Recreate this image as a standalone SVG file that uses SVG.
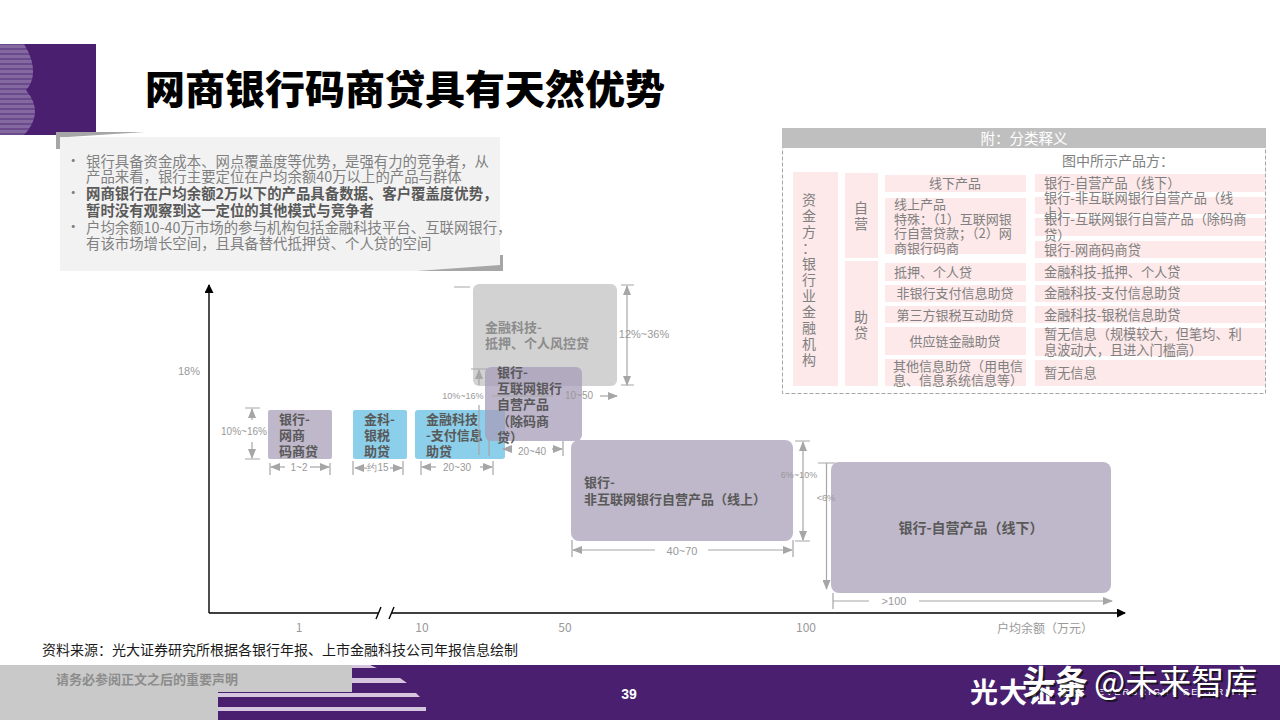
<svg xmlns="http://www.w3.org/2000/svg" width="1280" height="720" viewBox="0 0 1280 720">
<style>
text{font-family:"Noto Sans CJK SC","Liberation Sans",sans-serif}
.b{font-size:14.4px;fill:#808080}
.bb{font-size:14.4px;fill:#595959;font-weight:700}
.t{font-size:13px;fill:#808080}
.c{text-anchor:middle}
.p{fill:#fde9ea}
.n{font-size:13px;font-weight:700;fill:#595959}
.prod{fill:#bfb8ca}
.d{stroke:#a6a6a6;stroke-width:1.2;fill:none}
.da{stroke:#a6a6a6;stroke-width:1.2;fill:none;marker-end:url(#g)}
.l{font-size:10px;fill:#999;text-anchor:middle;font-family:"Liberation Sans",sans-serif}
.ax{font-size:12px;fill:#999;text-anchor:middle}
.axis{stroke:#000;stroke-width:1.4;fill:none}
</style>
<defs>
<marker id="g" markerWidth="10" markerHeight="8" refX="9" refY="4" orient="auto" markerUnits="userSpaceOnUse"><path d="M0 0L10 4L0 8Z" fill="#a6a6a6"/></marker>
<marker id="k" markerWidth="9" markerHeight="9" refX="8" refY="4.5" orient="auto" markerUnits="userSpaceOnUse"><path d="M0 0L9 4.5L0 9Z" fill="#000"/></marker>
<pattern id="st" width="4" height="5" patternUnits="userSpaceOnUse"><rect width="4" height="3" fill="#8468a0"/><rect y="3" width="4" height="2" fill="#6a4a8c"/></pattern>
</defs>
<rect width="1280" height="720" fill="#fff"/>

<g id="logo">
<rect x="0" y="44" width="96" height="91" fill="#4a1f6f"/>
<path d="M0 44H24Q34 60 33 74Q32 84 26 90Q36 102 35 114Q33 126 24 135H0Z" fill="url(#st)"/>
</g>
<text id="title" x="145" y="104" font-size="40" font-weight="900" fill="#000">网商银行码商贷具有天然优势</text>

<g id="summary">
<path d="M56 132H145L60 137.500V149H56Z" fill="#a6a6a6"/>
<rect x="60" y="137" width="440" height="134" fill="#f2f2f2"/>
<path d="M503 255V271H417L500 265V255Z" fill="#a6a6a6"/>
<g class="b">
<text x="66" y="166">•</text><text x="66" y="198">•</text><text x="66" y="232">•</text>
<text x="86" y="167">银行具备资金成本、网点覆盖度等优势，是强有力的竞争者，从</text>
<text x="86" y="182">产品来看，银行主要定位在户均余额40万以上的产品与群体</text>
<text x="86" y="233">户均余额10-40万市场的参与机构包括金融科技平台、互联网银行，</text>
<text x="86" y="249">有该市场增长空间，且具备替代抵押贷、个人贷的空间</text>
</g>
<text class="bb" x="86" y="199">网商银行在户均余额2万以下的产品具备数据、客户覆盖度优势，</text>
<text class="bb" x="86" y="216">暂时没有观察到这一定位的其他模式与竞争者</text>
</g>

<g id="legend">
<rect x="782.500" y="128.500" width="483" height="265" fill="#fff" stroke="#a6a6a6" stroke-dasharray="4 2"/>
<rect x="782" y="128" width="484" height="20" fill="#bfbfbf"/>
<text x="1024" y="144" font-size="14.500" fill="#fff" class="c">附：分类释义</text>
<text x="1118" y="166" font-size="14" fill="#808080" class="c">图中所示产品方：</text>
<rect class="p" x="793" y="172" width="45" height="214"/>
<rect class="p" x="845" y="173" width="33" height="85"/>
<rect class="p" x="845" y="261" width="33" height="125"/>
<rect class="p" x="885" y="175" width="141" height="17"/>
<rect class="p" x="885" y="198" width="141" height="56"/>
<rect class="p" x="885" y="263" width="141" height="18"/>
<rect class="p" x="885" y="285" width="141" height="17"/>
<rect class="p" x="885" y="306" width="141" height="17"/>
<rect class="p" x="885" y="327" width="141" height="28"/>
<rect class="p" x="885" y="359" width="141" height="27"/>
<rect class="p" x="1035" y="174" width="230" height="18"/>
<rect class="p" x="1035" y="197" width="230" height="17"/>
<rect class="p" x="1035" y="218" width="230" height="18"/>
<rect class="p" x="1035" y="241" width="230" height="17"/>
<rect class="p" x="1035" y="263" width="230" height="18"/>
<rect class="p" x="1035" y="285" width="230" height="17"/>
<rect class="p" x="1035" y="306" width="230" height="17"/>
<rect class="p" x="1035" y="328" width="230" height="28"/>
<rect class="p" x="1035" y="360" width="230" height="26"/>
<g font-size="14" fill="#808080" text-anchor="middle">
<text x="809" y="205">资</text><text x="809" y="221">金</text><text x="809" y="237">方</text><text x="809" y="253">：</text><text x="809" y="269">银</text><text x="809" y="285">行</text><text x="809" y="301">业</text><text x="809" y="317">金</text><text x="809" y="333">融</text><text x="809" y="349">机</text><text x="809" y="365">构</text>
<text x="861" y="213">自</text><text x="861" y="229">营</text>
<text x="861" y="322">助</text><text x="861" y="338">贷</text>
</g>
<g class="t">
<text class="c t" x="955" y="188">线下产品</text>
<text x="894" y="209">线上产品</text>
<text x="894" y="224">特殊：（1）互联网银</text>
<text x="894" y="238">行自营贷款；（2）网</text>
<text x="894" y="253">商银行码商</text>
<text x="894" y="277">抵押、个人贷</text>
<text class="c t" x="955" y="298">非银行支付信息助贷</text>
<text class="c t" x="955" y="320">第三方银税互动助贷</text>
<text class="c t" x="955" y="346">供应链金融助贷</text>
<text x="893" y="371">其他信息助贷（用电信</text>
<text x="893" y="385">息、信息系统信息等）</text>
</g>
<g font-size="13.200" fill="#808080">
<text x="1044" y="188">银行-自营产品（线下）</text>
<text x="1044" y="203">银行-非互联网银行自营产品（线</text>
<text x="1044" y="218">上）</text>
<text x="1044" y="224">银行-互联网银行自营产品（除码商</text>
<text x="1044" y="240">贷）</text>
<text x="1044" y="255">银行-网商码商贷</text>
<text x="1044" y="277">金融科技-抵押、个人贷</text>
<text x="1044" y="298">金融科技-支付信息助贷</text>
<text x="1044" y="320">金融科技-银税信息助贷</text>
<text x="1044" y="339">暂无信息（规模较大，但笔均、利</text>
<text x="1044" y="355">息波动大，且进入门槛高）</text>
<text x="1044" y="378">暂无信息</text>
</g>
</g>

<g id="node-fintech-mortgage">
<rect x="473" y="284" width="144" height="102" rx="6" fill="#d2d2d2"/>
<text x="485" y="332" font-size="13" font-weight="700" fill="#8c8c8c">金融科技-</text>
<text x="485" y="348" font-size="13" font-weight="700" fill="#8c8c8c">抵押、个人风控贷</text>
</g>
<g id="node-mybank">
<rect class="prod" x="268" y="410" width="64" height="49" rx="2"/>
<text class="n" x="279" y="424">银行-</text><text class="n" x="279" y="440">网商</text><text class="n" x="279" y="456">码商贷</text>
</g>
<g id="node-tax">
<rect x="353" y="410" width="54" height="49" rx="2" fill="#8ccfea"/>
<text class="n" x="364" y="424">金科-</text><text class="n" x="364" y="440">银税</text><text class="n" x="364" y="456">助贷</text>
</g>
<g id="node-payment">
<rect x="415" y="410" width="90" height="49" rx="3" fill="#8ccfea"/>
<text class="n" x="426" y="424">金融科技</text><text class="n" x="426" y="440">-支付信息</text><text class="n" x="426" y="456">助贷</text>
</g>
<g id="node-internet-bank">
<rect x="485" y="367" width="97" height="74" rx="6" fill="#a79eb9" fill-opacity="0.75"/>
<text class="n" x="497" y="377">银行-</text><text class="n" x="497" y="393">互联网银行</text><text class="n" x="497" y="409">自营产品</text><text class="n" x="497" y="426">（除码商</text><text class="n" x="497" y="442">贷）</text>
</g>
<g id="node-online">
<rect class="prod" x="571" y="440" width="222" height="101" rx="8"/>
<text class="n" x="584" y="487">银行-</text><text class="n" x="584" y="504">非互联网银行自营产品（线上）</text>
</g>
<g id="node-offline">
<rect class="prod" x="831" y="462" width="280" height="131" rx="8"/>
<text x="971" y="533" font-size="14" font-weight="700" fill="#595959" text-anchor="middle">银行-自营产品（线下）</text>
</g>

<g id="connectors">
<path class="axis" d="M209 613V285" marker-end="url(#k)"/>
<path class="axis" d="M209 613H378M392 613H1125" marker-end="url(#k)"/>
<path class="axis" stroke-width="1" d="M376 619L381 607M389 619L394 607"/>
<path class="d" d="M454 287H470M621 285H634M621 385H634M245 408H260M245 459H260M471 369H487M492 396H553"/>
<path class="da" d="M627 300V286"/><path class="da" d="M627 370V385"/><path class="d" d="M627 300V370"/>
<path class="da" d="M252 420V409"/><path class="da" d="M252 442V458"/>
<path class="da" d="M479 385V370"/><path class="d" d="M479 405V455"/>
<path class="d" d="M270 463V475M330 463V475M353 461V475M403 461V475M421 461V475M493 461V475M489 438V456M563 441V456"/>
<path class="da" d="M285 467H271"/><path class="da" d="M310 467H329"/>
<path class="da" d="M367 468H355"/><path class="da" d="M390 468H402"/>
<path class="da" d="M436 467H422"/><path class="da" d="M480 467H492"/>
<path class="da" d="M600 396H617"/>
<path class="da" d="M512 449H503"/><path class="da" d="M552 449H562"/>
<path class="d" d="M795 441H810M795 541H810M818 463H835M572 540V557M793 540V557M833 593V609"/>
<path class="da" d="M803 450V442"/><path class="da" d="M803 532V540"/><path class="d" d="M803 450V532"/>
<path class="da" d="M826.500 463V589"/>
<path class="da" d="M655 550H573"/><path class="da" d="M708 550H792"/>
<path class="d" d="M833 601H869"/><path class="da" d="M919 601H1112"/>
</g>

<g id="labels">
<text class="l" x="244" y="435">10%~16%</text>
<text class="l" x="299" y="471">1~2</text>
<text class="l" x="378" y="471">约15</text>
<text class="l" x="457" y="471">20~30</text>
<text class="l" x="463" y="399" style="font-size:9px">10%~16%</text>
<text class="l" x="579" y="399">10~50</text>
<text class="l" x="532" y="455">20~40</text>
<text class="l" x="644" y="338" style="font-size:11px">12%~36%</text>
<text class="l" x="799" y="478" style="font-size:9px">6%~10%</text>
<text class="l" x="826" y="501" style="font-size:9px">&lt;6%</text>
<text class="l" x="682" y="555" style="font-size:11px">40~70</text>
<text class="l" x="894" y="605" style="font-size:11px">&gt;100</text>
<text class="ax" x="189" y="375" style="font-size:11px;font-family:'Liberation Sans',sans-serif">18%</text>
<text class="ax" x="299" y="632">1</text>
<text class="ax" x="422" y="632">10</text>
<text class="ax" x="565" y="632">50</text>
<text class="ax" x="806" y="632">100</text>
<text class="ax" x="1045" y="633">户均余额（万元）</text>
</g>

<text id="source" x="42" y="655" font-size="14" fill="#1a1a1a">资料来源：光大证券研究所根据各银行年报、上市金融科技公司年报信息绘制</text>

<g id="footer">
<rect x="0" y="665" width="1280" height="55" fill="#4a1f6f"/>
<path d="M0 665H352V692H218V720H0Z" fill="#c9c9c9"/>
<path d="M352 665H370L377 668H352ZM352 678H400L407 683H352ZM218 693H416L420 697H218ZM218 707H426V711H218Z" fill="#d6c5de"/>
<text x="56" y="684" font-size="13" font-weight="700" fill="#8c8c8c">请务必参阅正文之后的重要声明</text>
<text x="629" y="699" font-size="14" font-weight="700" fill="#fff" text-anchor="middle" style="font-family:'Liberation Sans',sans-serif">39</text>
<text x="970" y="703" font-size="28" font-weight="700" fill="#fff" letter-spacing="1">光大证券</text>
<text x="1098" y="695" font-size="9" fill="#fff" letter-spacing="2.200" style="font-family:'Liberation Sans',sans-serif">EVERBRIGHT SECURITIES</text>
<text x="1024" y="696" font-size="33" font-weight="700" fill="#111" opacity="0.8">头条</text>
<text x="1022" y="694" font-size="33" font-weight="700" fill="#fff">头条</text>
<text x="1096" y="696" font-size="33" fill="#111" opacity="0.8">@未来智库</text>
<text x="1094" y="694" font-size="33" fill="#fff">@未来智库</text>
</g>
</svg>
